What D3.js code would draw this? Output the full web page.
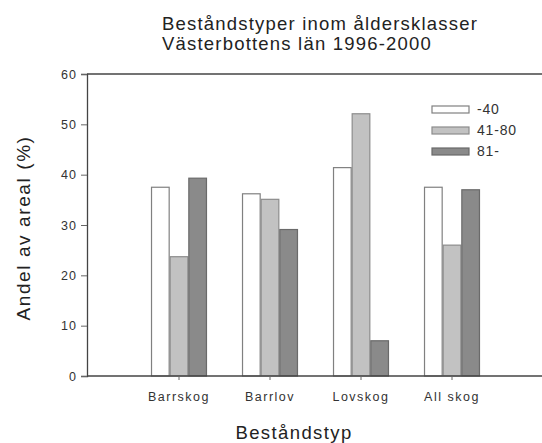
<!DOCTYPE html>
<html>
<head>
<meta charset="utf-8">
<script src="https://cdn.jsdelivr.net/npm/d3@7"></script>
<style>
  html, body { margin: 0; padding: 0; background: #fff; }
  svg { display: block; font-family: "Liberation Sans", Arial, sans-serif; }
</style>
</head>
<body>
<svg id="chart" width="542" height="443"></svg>
<script>
// ---- data ----
const titleLines = ["Beståndstyper inom åldersklasser", "Västerbottens län 1996-2000"];
const categories = ["Barrskog", "Barrlov", "Lovskog", "All skog"];
const seriesNames = ["-40", "41-80", "81-"];
const values_40 = [37.5, 36.2, 41.4, 37.5];
const values_41_80 = [23.7, 35.1, 52.1, 26.0];
const values_81 = [39.3, 29.1, 7.0, 37.0];
const yTicks = [0, 10, 20, 30, 40, 50, 60];
const xLabel = "Beståndstyp";
const yLabel = "Andel av areal (%)";

const seriesValues = [values_40, values_41_80, values_81];
const fills = ["#ffffff", "#c2c2c2", "#8a8a8a"];
const strokes = ["#808080", "#8c8c8c", "#6a6a6a"];

const svg = d3.select("#chart");
const axisLeftX = 87, plotRight = 542, yTop = 74, yBottom = 376;

const y = d3.scaleLinear().domain([0, 60]).range([yBottom, yTop]);
const x0 = d3.scaleBand().domain(categories).range([133.5, 497.5])
  .paddingInner(0.385).paddingOuter(0.1925);
const x1 = d3.scaleBand().domain(seriesNames).range([0, x0.bandwidth()]);

// title
const title = svg.append("text").attr("x", 162).attr("y", 30)
  .attr("font-size", 18.5).attr("fill", "#222").style("letter-spacing", "1.2px");
titleLines.forEach((t, i) => {
  title.append("tspan").attr("x", 162).attr("y", 30 + i * 19.5).text(t);
});

// bars
const rows = categories.map((c, i) => ({ cat: c, vals: seriesNames.map((s, j) => ({ s, j, v: seriesValues[j][i] })) }));
const g = svg.append("g");
rows.forEach(r => {
  const gg = g.append("g").attr("transform", `translate(${x0(r.cat)},0)`);
  gg.selectAll("rect").data(r.vals).join("rect")
    .attr("x", d => x1(d.s) + 0.5)
    .attr("y", d => y(d.v))
    .attr("width", x1.bandwidth() - 1)
    .attr("height", d => yBottom - y(d.v))
    .attr("fill", d => fills[d.j])
    .attr("stroke", d => strokes[d.j])
    .attr("stroke-width", 1.2);
});

// frame lines
svg.append("line").attr("x1", axisLeftX).attr("x2", plotRight).attr("y1", yTop).attr("y2", yTop)
  .attr("stroke", "#444").attr("stroke-width", 1.3);

// y axis
const yAxis = svg.append("g").attr("transform", `translate(${axisLeftX},0)`)
  .call(d3.axisLeft(y).tickValues(yTicks).tickSize(6).tickPadding(4));
yAxis.select(".domain").attr("stroke", "#444").attr("stroke-width", 1.3);
yAxis.selectAll(".tick line").attr("stroke", "#666");
yAxis.selectAll(".tick text").attr("font-size", 12.5).attr("fill", "#333")
  .attr("font-family", "Liberation Sans, Arial, sans-serif").style("letter-spacing", "1px");

// x axis
svg.append("line").attr("x1", axisLeftX).attr("x2", plotRight).attr("y1", yBottom).attr("y2", yBottom)
  .attr("stroke", "#444").attr("stroke-width", 1.3);
const xAxis = svg.append("g").attr("transform", `translate(0,${yBottom})`)
  .call(d3.axisBottom(x0).tickSize(4).tickPadding(12));
xAxis.select(".domain").remove();
xAxis.selectAll(".tick line").attr("stroke", "#666");
xAxis.selectAll(".tick text").attr("font-size", 12.5).attr("fill", "#333")
  .attr("font-family", "Liberation Sans, Arial, sans-serif").style("letter-spacing", "1.5px");

// axis labels
svg.append("text").attr("x", 294).attr("y", 439).attr("text-anchor", "middle")
  .attr("font-size", 18.5).attr("fill", "#222").style("letter-spacing", "1.4px").text(xLabel);
svg.append("text").attr("transform", "translate(30,228) rotate(-90)").attr("text-anchor", "middle")
  .attr("font-size", 19).attr("fill", "#222").style("letter-spacing", "1.6px").text(yLabel);

// legend
const leg = svg.append("g");
seriesNames.forEach((s, j) => {
  const yy = 106 + j * 21;
  leg.append("rect").attr("x", 432).attr("y", yy).attr("width", 37).attr("height", 7)
    .attr("fill", fills[j]).attr("stroke", strokes[j]).attr("stroke-width", 1.2);
  leg.append("text").attr("x", 477).attr("y", yy + 8).attr("font-size", 14)
    .attr("fill", "#333").style("letter-spacing", "0.8px").text(s);
});
</script>
</body>
</html>
